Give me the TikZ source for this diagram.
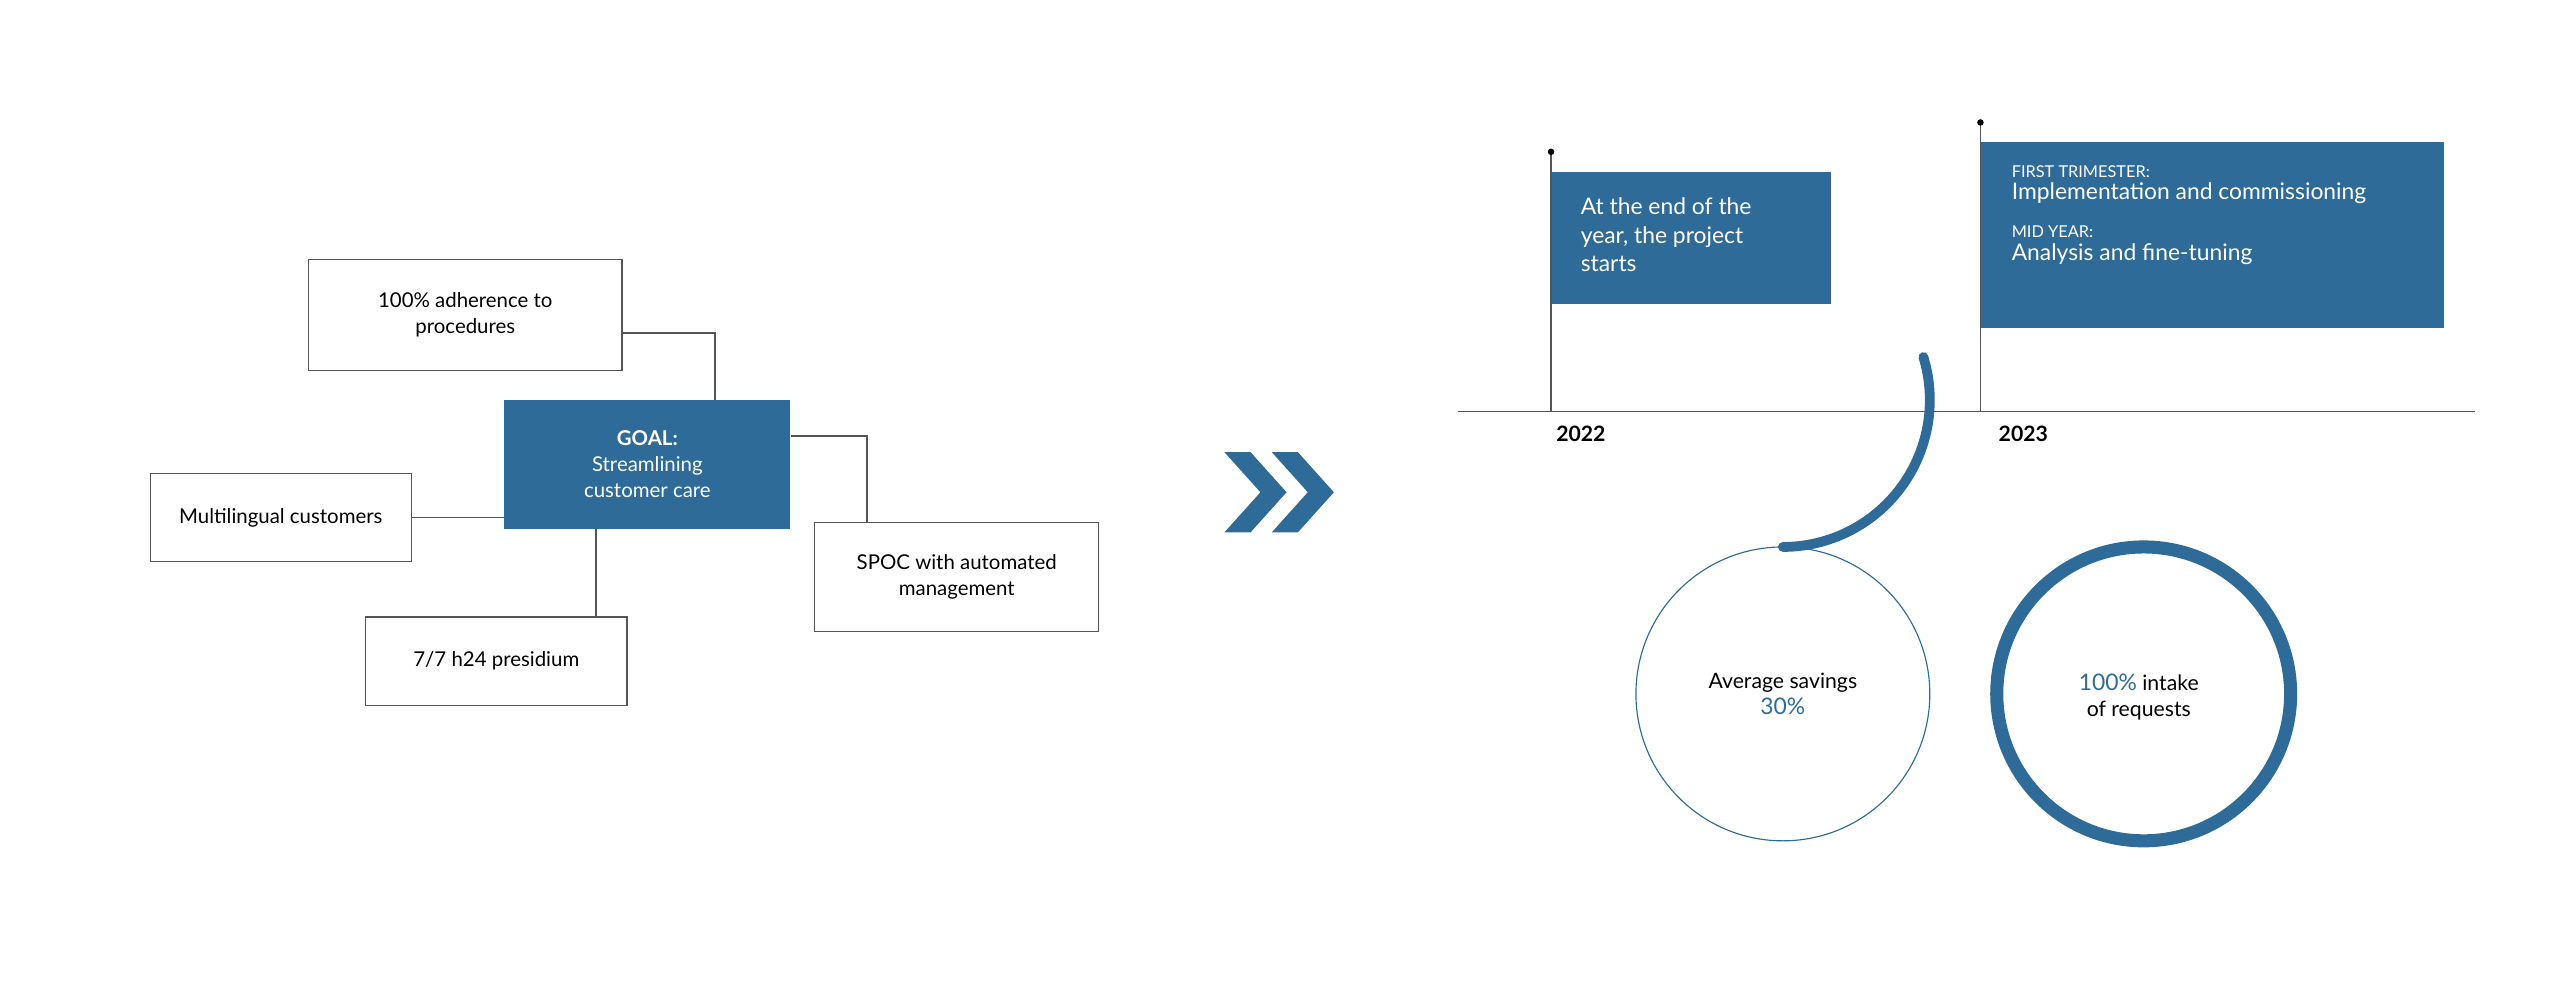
\documentclass[tikz,border=0pt]{standalone}
\usepackage{fontspec}
\setmainfont{Lato}
\definecolor{blu}{HTML}{2E6B98}
\definecolor{ln}{HTML}{555555}
\tikzset{
  box/.style={draw=ln, line width=0.8pt, fill=white, align=center, font=\fontsize{12.5}{16}\selectfont, inner sep=0pt},
  goalbox/.style={fill=blu, text=white, align=center, font=\fontsize{12.5}{16}\selectfont, inner sep=0pt},
  conn/.style={draw=ln, line width=0.8pt},
  flag/.style={fill=blu, text=white, align=left, anchor=north west, inner sep=0pt},
  pole/.style={draw=ln, line width=0.8pt},
}
\begin{document}
\begin{tikzpicture}[x=1pt,y=-1pt]
\useasboundingbox (0,0) rectangle (1568,602);
% left diagram
\node[box, minimum width=192pt, minimum height=68pt] (adh) at (285,193) {100\% adherence to\\procedures};
\node[goalbox, minimum width=175pt, minimum height=79pt] (goal) at (396.5,284.5) {\textbf{GOAL:}\\Streamlining\\customer care};
\node[box, minimum width=160pt, minimum height=54pt] (mult) at (172,317) {Multilingual customers};
\node[box, minimum width=160pt, minimum height=54pt] (h24) at (304,405) {7/7 h24 presidium};
\node[box, minimum width=174pt, minimum height=67pt] (spoc) at (586,353.5) {SPOC with automated\\management};
\coordinate (c1) at (438,204);
\coordinate (c2) at (531,267);
\draw[conn] (adh.east |- c1) -| (goal.north -| c1);
\draw[conn] (goal.east |- c2) -| (spoc.north -| c2);
\draw[conn] (mult.east) -- (goal.west |- mult.east);
\draw[conn] (goal.south -| 365,0) -- (h24.north -| 365,0);
% chevrons
\fill[blu] (750,277) -- (766,277) -- (788,301.5) -- (766,326) -- (750,326) -- (772,301.5) -- cycle;
\fill[blu] (779,277) -- (795,277) -- (817,301.5) -- (795,326) -- (779,326) -- (801,301.5) -- cycle;
% timeline
\coordinate (tl) at (893,252);
\coordinate (tr) at (1516,252);
\draw[conn] (tl) -- (tr);
\node[flag, minimum width=171pt, minimum height=81pt] (f1) at (950,105) {};
\node[anchor=north west, text=white, align=left, inner sep=0pt, font=\fontsize{14}{17.5}\selectfont] (t1) at (968,121) {At the end of the\\year, the project\\starts};
\coordinate (p1) at (950,93);
\draw[pole] (p1) -- (950,252);
\fill (p1) circle (2pt);
\node[flag, minimum width=284pt, minimum height=114pt] (f2) at (1213,87) {};
\node[anchor=north west, text=white, align=left, inner sep=0pt] (t2) at (1232,101) {{\fontsize{10}{12}\selectfont FIRST TRIMESTER:}\\[2pt]{\fontsize{14}{17}\selectfont Implementation and commissioning}\\[11pt]{\fontsize{10}{12}\selectfont MID YEAR:}\\[2pt]{\fontsize{14}{17}\selectfont Analysis and fine-tuning}};
\coordinate (p2) at (1213,75);
\draw[pole] (p2) -- (1213,252);
\fill (p2) circle (2pt);
\node[font=\fontsize{13}{15}\selectfont\bfseries, anchor=north west, inner sep=0pt] (y1) at (953,261) {2022};
\node[font=\fontsize{13}{15}\selectfont\bfseries, anchor=north west, inner sep=0pt] (y2) at (1224,261) {2023};
% circles
\coordinate (cc1) at (1092,425);
\draw[blu, line width=0.7pt] (cc1) circle (90);
\draw[blu, line width=6pt, line cap=round] (1092,335) arc[start angle=90, end angle=-17, radius=90];
\node[align=center, font=\fontsize{13}{16}\selectfont] (s1) at (cc1) {Average savings\\\textcolor{blu}{\fontsize{14}{16}\selectfont 30\%}};
\coordinate (cc2) at (1313,425);
\draw[blu, line width=8pt] (cc2) circle (90);
\node[align=center, font=\fontsize{13}{16}\selectfont] (s2) at (1310,427) {{\textcolor{blu}{\fontsize{14}{16}\selectfont 100\%}} intake\\of requests};
\end{tikzpicture}
\end{document}
